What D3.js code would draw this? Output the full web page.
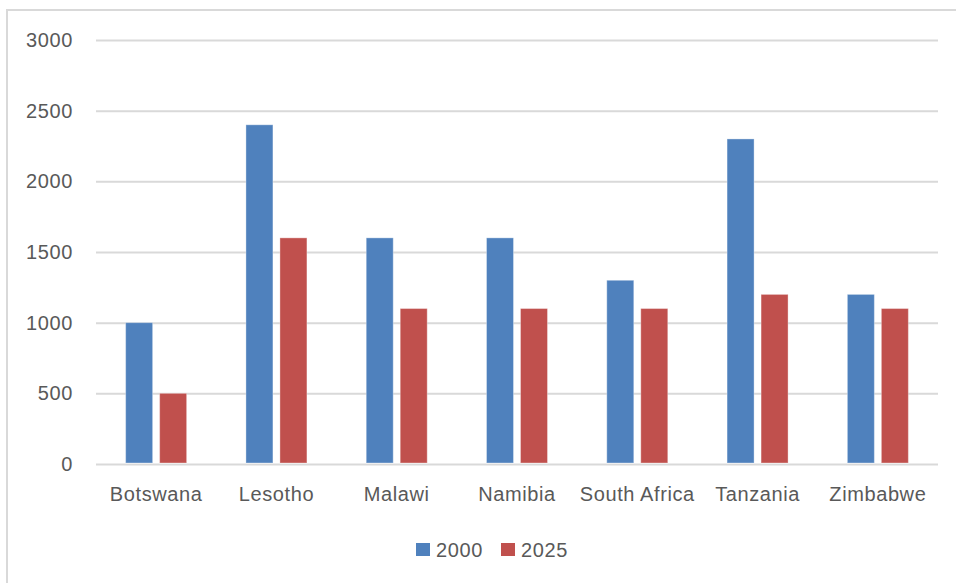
<!DOCTYPE html>
<html>
<head>
<meta charset="utf-8">
<script src="https://cdn.jsdelivr.net/npm/d3@7"></script>
<style>
  body { margin: 0; background: #fff; }
  svg { display: block; font-family: "Liberation Sans", Arial, sans-serif; }
  .tick text { fill: #595959; font-size: 20px; letter-spacing: 0.6px; }
</style>
</head>
<body>
<svg width="956" height="583"></svg>
<script>
// Chart data
const countries = ["Botswana", "Lesotho", "Malawi", "Namibia", "South Africa", "Tanzania", "Zimbabwe"];
const seriesNames = ["2000", "2025"];
const values2000 = [1000, 2400, 1600, 1600, 1300, 2300, 1200];
const values2025 = [500, 1600, 1100, 1100, 1100, 1200, 1100];
const yTicks = [0, 500, 1000, 1500, 2000, 2500, 3000];
const colors = ["#4F81BD", "#C0504D"];

// Plot area bounds
var plot = { left: 96, right: 938, top: 40, bottom: 464 };

var svg = d3.select("svg");

// outer chart border (runs off the right and bottom of the picture)
svg.append("rect")
    .attr("x", 7).attr("y", 10)
    .attr("width", 1000).attr("height", 700)
    .attr("fill", "none")
    .attr("stroke", "#d9d9d9")
    .attr("stroke-width", 2);

var x0 = d3.scaleBand()
    .domain(countries)
    .range([plot.left, plot.right]);

// bar width ~27px with ~7px gap inside each category
var x1 = d3.scaleBand()
    .domain(seriesNames)
    .range([0, x0.bandwidth()])
    .paddingInner(0.206)
    .paddingOuter(0.872);

var y = d3.scaleLinear()
    .domain([0, 3000])
    .range([plot.bottom, plot.top]);

// y axis + gridlines
var yAxis = svg.append("g")
    .attr("transform", "translate(" + plot.left + ",0)")
    .call(
        d3.axisLeft(y)
            .tickValues(yTicks)
            .tickFormat(d3.format("d"))
            .tickSizeInner(-(plot.right - plot.left))
            .tickSizeOuter(0)
            .tickPadding(23)
    );
yAxis.select(".domain").remove();
yAxis.selectAll(".tick line")
    .attr("stroke", "#d9d9d9")
    .attr("stroke-width", 2);

// x axis labels
var xAxis = svg.append("g")
    .attr("transform", "translate(0," + plot.bottom + ")")
    .call(d3.axisBottom(x0).tickSize(0).tickPadding(23));
xAxis.select(".domain").remove();

// rows of [country, series, value]
var rows = [];
countries.forEach(function(c, i) {
    rows.push({ country: c, series: seriesNames[0], value: values2000[i], color: colors[0] });
    rows.push({ country: c, series: seriesNames[1], value: values2025[i], color: colors[1] });
});

svg.append("g").selectAll("rect")
    .data(rows)
    .enter()
    .append("rect")
        .attr("x", d => x0(d.country) + x1(d.series))
        .attr("y", d => y(d.value))
        .attr("width", x1.bandwidth())
        .attr("height", d => y(0) - y(d.value) - 1)
        .attr("fill", d => d.color)
        .attr("stroke", "rgba(255,255,255,0.35)")
        .attr("stroke-width", 1);

// legend
var legend = svg.append("g").attr("transform", "translate(416,543)");
var legendX = [0, 85];
seriesNames.forEach(function(s, i) {
    var g = legend.append("g").attr("transform", "translate(" + legendX[i] + ",0)");
    g.append("rect")
        .attr("width", 14).attr("height", 13)
        .attr("fill", colors[i]);
    g.append("text")
        .attr("x", 20).attr("y", 14)
        .attr("fill", "#595959")
        .style("font-size", "20px")
        .style("letter-spacing", "0.6px")
        .text(s);
});
</script>
</body>
</html>
